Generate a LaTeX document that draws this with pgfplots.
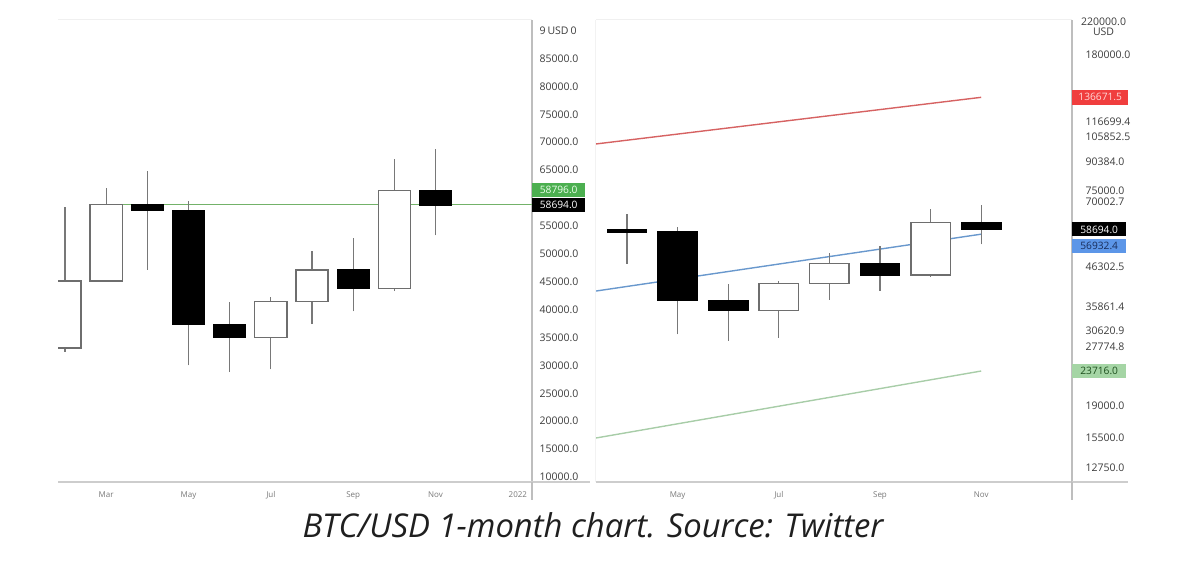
\documentclass[border=0pt]{standalone}
\usepackage{fontspec}
\setmainfont{Open Sans}
\usepackage{pgfplots}
\pgfplotsset{compat=1.18}
\definecolor{wick}{RGB}{120,120,120}
\definecolor{boxline}{RGB}{110,110,110}
\definecolor{axgray}{RGB}{205,205,205}
\definecolor{axgray2}{RGB}{190,190,190}
\definecolor{lblgray}{RGB}{60,60,60}
\definecolor{xlbl}{RGB}{120,120,120}
\definecolor{hlgreen}{RGB}{115,178,105}
\definecolor{trred}{RGB}{214,98,98}
\definecolor{trblue}{RGB}{105,152,205}
\definecolor{trgreen}{RGB}{168,205,168}
\definecolor{boxgreen}{RGB}{76,175,80}
\definecolor{boxred}{RGB}{240,62,62}
\definecolor{boxblue}{RGB}{92,150,232}
\definecolor{boxlgreen}{RGB}{165,213,165}
\definecolor{bluetext}{RGB}{25,45,90}
\definecolor{greentext}{RGB}{30,80,30}

\pgfplotsset{
  wickst/.style={draw=wick, line width=1.2pt, mark=none},
  bullst/.style={draw=boxline, fill=white, line width=1.3pt, mark=none},
  bearst/.style={draw=black, fill=black, line width=1.2pt, mark=none},
}
\tikzset{lbox/.style={anchor=west, inner sep=0pt, minimum height=14pt, font=\fontsize{10.2}{12}\selectfont}}
% pos, low, open, close, high, style
\newcommand{\candle}[6]{%
  \pgfmathsetmacro\xa{#1-0.39}\pgfmathsetmacro\xb{#1+0.39}%
  \addplot[wickst] coordinates {(#1,#2) (#1,#5)};
  \edef\tmp{\noexpand\addplot[#6] coordinates {(\xa,#3) (\xb,#3) (\xb,#4) (\xa,#4)} -- cycle;}\tmp
}

\pgfplotsset{
  panel/.style={
    anchor=south west, scale only axis, height=462pt,
    axis x line*=bottom, axis y line*=right,
    x axis line style={draw=axgray, line width=2pt},
    y axis line style={draw=axgray2, line width=1.3pt},
    major tick length=0pt, minor tick num=0,
    scaled y ticks=false, scaled x ticks=false,
    clip mode=individual,
    yticklabel style={font=\fontsize{10.5}{12}\selectfont, text=lblgray, anchor=west, xshift=4pt},
    xticklabel style={font=\fontsize{8}{9}\selectfont, text=xlbl, yshift=-6pt},
  },
}

\begin{document}
\begin{tikzpicture}
\useasboundingbox (0,0) rectangle (1200pt,563pt);

% ---------------- left panel: linear scale ----------------
\begin{axis}[panel, at={(58pt,81pt)}, width=474pt,
  xmin=1.83, xmax=13.343, ymin=9104, ymax=91894,
  xtick={3,5,7,9,11,13}, xticklabels={Mar,May,Jul,Sep,Nov,2022},
  ytick={10000,15000,20000,25000,30000,35000,40000,45000,50000,55000,65000,70000,75000,80000,85000,90000},
  yticklabels={10000.0,15000.0,20000.0,25000.0,30000.0,35000.0,40000.0,45000.0,50000.0,55000.0,65000.0,70000.0,75000.0,80000.0,85000.0,9\hspace{2pt}USD\hspace{2pt}0},
]
\addplot[hlgreen, line width=1.4pt, mark=none] coordinates {(2.7,58796) (13.343,58796)};
\candle{2}{32400}{33100}{45100}{58300}{bullst}
\candle{3}{45000}{45100}{58800}{61700}{bullst}
\candle{4}{47100}{58800}{57700}{64800}{bearst}
\candle{5}{30000}{57700}{37300}{59500}{bearst}
\candle{6}{28800}{37300}{35000}{41300}{bearst}
\candle{7}{29300}{35000}{41500}{42300}{bullst}
\candle{8}{37400}{41500}{47100}{50500}{bullst}
\candle{9}{39700}{47100}{43800}{52900}{bearst}
\candle{10}{43300}{43800}{61300}{66900}{bullst}
\candle{11}{53300}{61300}{58694}{68800}{bearst}
\node[lbox, fill=boxgreen, text=white!92!green, minimum width=53pt] at (axis cs:13.343,61430) {58796.0};
\node[lbox, fill=black, text=white, minimum width=53pt] at (axis cs:13.343,58694) {58694.0};
\end{axis}
\draw[axgray, line width=2pt] (531pt,81pt) -- (590pt,81pt);
\draw[axgray2, line width=1.3pt] (532pt,81pt) -- (532pt,63pt);
\draw[black!6, line width=1pt] (58pt,543pt) -- (532pt,543pt);

% ---------------- right panel: log scale ----------------
\begin{axis}[panel, at={(596pt,81pt)}, width=476pt, ymode=log,
  xmin=3.387, xmax=12.795, ymin=11659, ymax=224190,
  xtick={5,7,9,11}, xticklabels={May,Jul,Sep,Nov},
  ytick={12750,15500,19000,27774.8,30620.9,35861.4,46302.5,70002.7,75000,90384,105852.5,116699.4,180000},
  yticklabels={12750.0,15500.0,19000.0,27774.8,30620.9,35861.4,46302.5,70002.7,75000.0,90384.0,105852.5,116699.4,180000.0},
  yticklabel style={xshift=6pt},
]
\addplot[trred, line width=1.4pt, mark=none] coordinates {(3.387,101400) (11,136671.5)};
\addplot[trblue, line width=1.4pt, mark=none] coordinates {(3.387,39570) (11,56932.4)};
\addplot[trgreen, line width=1.4pt, mark=none] coordinates {(3.387,15450) (11,23716)};
\candle{4}{47100}{58800}{57700}{64800}{bearst}
\candle{5}{30000}{57700}{37300}{59500}{bearst}
\candle{6}{28800}{37300}{35000}{41300}{bearst}
\candle{7}{29300}{35000}{41500}{42300}{bullst}
\candle{8}{37400}{41500}{47100}{50500}{bullst}
\candle{9}{39700}{47100}{43800}{52900}{bearst}
\candle{10}{43300}{43800}{61300}{66900}{bullst}
\candle{11}{53300}{61300}{58694}{68800}{bearst}
\node[lbox, fill=boxred, text=white!85!red, minimum width=56pt, minimum height=15pt] at (axis cs:12.795,136671.5) {136671.5};
\node[lbox, fill=black, text=white, minimum width=54pt] at (axis cs:12.795,58694) {58694.0};
\node[lbox, fill=boxblue, text=bluetext, minimum width=54pt] at (axis cs:12.795,52790) {56932.4};
\node[lbox, fill=boxlgreen, text=greentext, minimum width=54pt] at (axis cs:12.795,23716) {23716.0};
\node[anchor=north west, align=center, inner sep=0pt, font=\fontsize{10.5}{10}\selectfont, text=lblgray] at ([xshift=9pt,yshift=2pt]rel axis cs:1,1) {220000.0\\USD};
\end{axis}
\draw[axgray, line width=2pt] (1072pt,81pt) -- (1128pt,81pt);
\draw[axgray2, line width=1.3pt] (1072pt,81pt) -- (1072pt,63pt);
\draw[black!6, line width=1pt] (596pt,543pt) -- (1072pt,543pt);
\draw[black!5, line width=1pt] (595pt,81pt) -- (595pt,543pt);

% ---------------- caption ----------------
\node[anchor=base, inner sep=0pt, font=\fontsize{32.8}{38}\selectfont\itshape, text=black!88] at (593pt,26pt) {BTC/USD 1-month chart. Source: Twitter};
\end{tikzpicture}
\end{document}
